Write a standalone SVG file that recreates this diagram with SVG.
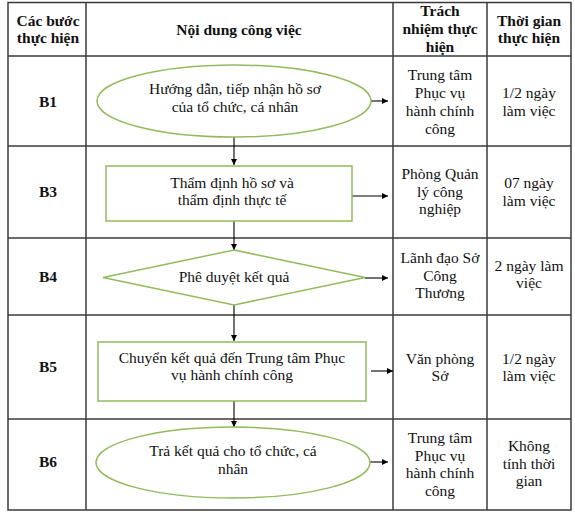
<svg xmlns="http://www.w3.org/2000/svg" width="575" height="512" viewBox="0 0 575 512" font-family="'Liberation Serif', 'Times New Roman', serif">
<defs>
<style>
.t{font-family:'Liberation Serif','Times New Roman',serif;font-size:15.5px;fill:#111;text-anchor:middle}
.b{font-weight:bold}
.grid{stroke:#3a3a3a;stroke-width:1.5;fill:none}
.node{fill:#fff;stroke:#92bb5e;stroke-width:1.5}
.con{stroke:#000;stroke-width:1.1;fill:none;marker-end:url(#ah)}
</style>
<marker id="ah" viewBox="0 0 8 8" refX="8" refY="4" markerWidth="6.5" markerHeight="6.5" markerUnits="userSpaceOnUse" orient="auto">
<path d="M0,0 L8,4 L0,8 z" fill="#000"/>
</marker>
</defs>
<rect width="575" height="512" fill="#fff"/>
<g id="table">
<rect class="grid" x="8" y="2.5" width="563" height="507.5"/>
<line class="grid" x1="86" y1="2.5" x2="86" y2="510"/>
<line class="grid" x1="393" y1="2.5" x2="393" y2="510"/>
<line class="grid" x1="487" y1="2.5" x2="487" y2="510"/>
<line class="grid" x1="8" y1="56" x2="571" y2="56"/>
<line class="grid" x1="8" y1="146" x2="571" y2="146"/>
<line class="grid" x1="8" y1="238" x2="571" y2="238"/>
<line class="grid" x1="8" y1="315" x2="571" y2="315"/>
<line class="grid" x1="8" y1="419" x2="571" y2="419"/>
</g>
<g id="header">
<text class="t b" x="48" y="26">Các bước</text>
<text class="t b" x="48" y="43">thực hiện</text>
<text class="t b" x="239" y="35">Nội dung công việc</text>
<text class="t b" x="440" y="16">Trách</text>
<text class="t b" x="440" y="34">nhiệm thực</text>
<text class="t b" x="440" y="52">hiện</text>
<text class="t b" x="529" y="26">Thời gian</text>
<text class="t b" x="529" y="43">thực hiện</text>
</g>
<g id="steps">
<text class="t b" x="48" y="107">B1</text>
<text class="t b" x="48" y="197">B3</text>
<text class="t b" x="48" y="282">B4</text>
<text class="t b" x="48" y="372">B5</text>
<text class="t b" x="48" y="467">B6</text>
</g>
<g id="connectors">
<line class="con" x1="234" y1="137" x2="234" y2="165"/>
<line class="con" x1="234" y1="221" x2="234" y2="250"/>
<line class="con" x1="234" y1="305" x2="234" y2="341"/>
<line class="con" x1="234" y1="401" x2="234" y2="427"/>
<line class="con" x1="371" y1="101" x2="388" y2="101"/>
<line class="con" x1="352" y1="196" x2="388" y2="196"/>
<line class="con" x1="365" y1="278" x2="388" y2="278"/>
<line class="con" x1="371" y1="371" x2="393" y2="371"/>
<line class="con" x1="370" y1="462" x2="388" y2="462"/>
</g>
<g id="n1">
<ellipse class="node" cx="234" cy="101" rx="137" ry="36"/>
<text class="t" x="235" y="94">Hướng dẫn, tiếp nhận hồ sơ</text>
<text class="t" x="235" y="112">của tổ chức, cá nhân</text>
</g>
<g id="n3">
<rect class="node" x="106" y="166" width="246" height="55"/>
<text class="t" x="232" y="188">Thẩm định hồ sơ và</text>
<text class="t" x="232" y="205">thẩm định thực tế</text>
</g>
<g id="n4">
<polygon class="node" points="234,250 365,277.5 234,305 103,277.5"/>
<text class="t" x="234" y="282">Phê duyệt kết quả</text>
</g>
<g id="n5">
<rect class="node" x="98" y="342" width="268" height="59"/>
<text class="t" x="232" y="363">Chuyển kết quả đến Trung tâm Phục</text>
<text class="t" x="232" y="380">vụ hành chính công</text>
</g>
<g id="n6">
<ellipse class="node" cx="233" cy="462.5" rx="137" ry="35.5"/>
<text class="t" x="233" y="456">Trả kết quả cho tổ chức, cá</text>
<text class="t" x="233" y="474">nhân</text>
</g>
<g id="resp">
<text class="t" x="440" y="80">Trung tâm</text>
<text class="t" x="440" y="98">Phục vụ</text>
<text class="t" x="440" y="116">hành chính</text>
<text class="t" x="440" y="134">công</text>
<text class="t" x="440" y="179">Phòng Quản</text>
<text class="t" x="440" y="197">lý công</text>
<text class="t" x="440" y="214">nghiệp</text>
<text class="t" x="440" y="263">Lãnh đạo Sở</text>
<text class="t" x="440" y="281">Công</text>
<text class="t" x="440" y="298">Thương</text>
<text class="t" x="440" y="364">Văn phòng</text>
<text class="t" x="440" y="381">Sở</text>
<text class="t" x="440" y="443">Trung tâm</text>
<text class="t" x="440" y="461">Phục vụ</text>
<text class="t" x="440" y="478">hành chính</text>
<text class="t" x="440" y="496">công</text>
</g>
<g id="time">
<text class="t" x="529" y="98">1/2 ngày</text>
<text class="t" x="529" y="116">làm việc</text>
<text class="t" x="529" y="188">07 ngày</text>
<text class="t" x="529" y="206">làm việc</text>
<text class="t" x="529" y="271">2 ngày làm</text>
<text class="t" x="529" y="288">việc</text>
<text class="t" x="529" y="364">1/2 ngày</text>
<text class="t" x="529" y="381">làm việc</text>
<text class="t" x="529" y="451">Không</text>
<text class="t" x="529" y="469">tính thời</text>
<text class="t" x="529" y="486">gian</text>
</g>
</svg>
